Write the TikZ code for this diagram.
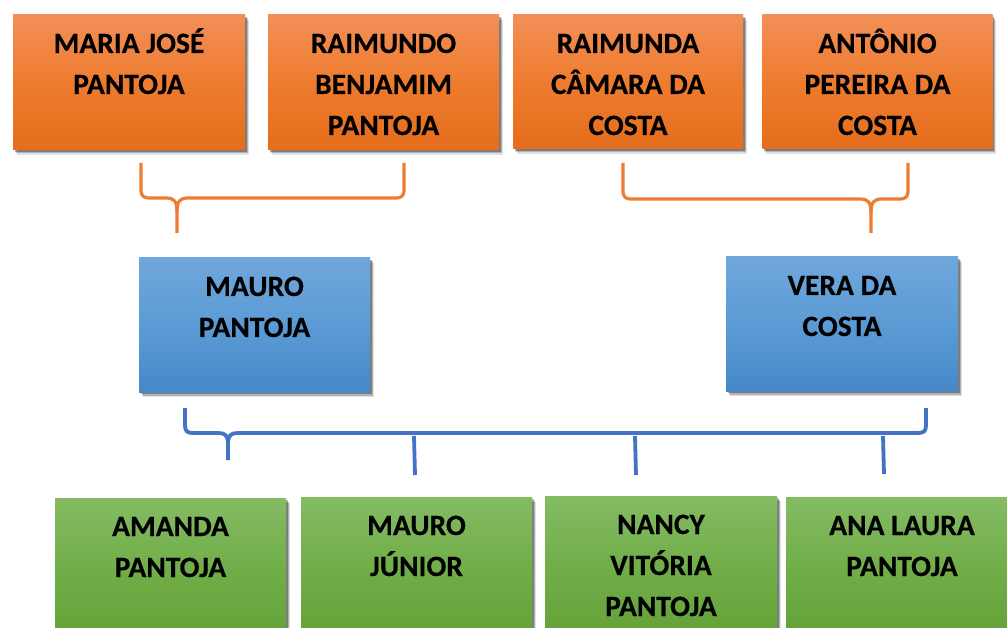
\documentclass[tikz,border=0pt]{standalone}
\usepackage{fontspec}
\setmainfont{Carlito}[BoldFeatures={FakeBold=0.4}]
\usetikzlibrary{shadows}
\definecolor{orTop}{RGB}{242,143,88}
\definecolor{orMid}{RGB}{238,124,46}
\definecolor{orBot}{RGB}{229,109,28}
\definecolor{blTop}{RGB}{112,167,220}
\definecolor{blMid}{RGB}{91,155,213}
\definecolor{blBot}{RGB}{70,136,200}
\definecolor{grTop}{RGB}{132,187,100}
\definecolor{grMid}{RGB}{112,173,71}
\definecolor{grBot}{RGB}{98,160,54}
\definecolor{orLine}{RGB}{237,125,49}
\definecolor{blLine}{RGB}{68,114,196}
\newcommand\boxlbl[1]{\parbox[t]{228pt}{\centering\fontsize{29.5}{41}\selectfont\bfseries #1}}
\tikzset{
  famshadow/.style={
    drop shadow={shadow xshift=3.5pt,shadow yshift=-5pt,opacity=0.12,fill=black},
    drop shadow={shadow xshift=2.5pt,shadow yshift=-3.5pt,opacity=0.2,fill=black},
    drop shadow={shadow xshift=1.5pt,shadow yshift=-2pt,opacity=0.3,fill=black}},
  fambox/.style={rectangle,inner sep=0pt,outer sep=0pt,draw=none,famshadow},
  obox/.style={fambox,top color=orTop,bottom color=orBot,middle color=orMid},
  bbox/.style={fambox,top color=blTop,bottom color=blBot,middle color=blMid},
  gbox/.style={fambox,top color=grTop,bottom color=grBot,middle color=grMid},
  txt/.style={anchor=base,inner sep=0pt,text=black},
  obrace/.style={draw=orLine,line width=3.2pt,line cap=butt,line join=round},
  bbrace/.style={draw=blLine,line width=3.8pt,line cap=butt,line join=round},
}
\begin{document}
\begin{tikzpicture}[x=1pt,y=-1pt]
\clip (0,0) rectangle (1007,628);
\fill[white] (0,0) rectangle (1007,628);
% top row
\node[obox,minimum width=232pt,minimum height=135pt] (mj) at (129,82.5) {};
\node[obox,minimum width=231pt,minimum height=135pt] (rb) at (383.5,82.5) {};
\node[obox,minimum width=230pt,minimum height=134pt] (rc) at (628,82) {};
\node[obox,minimum width=230pt,minimum height=134pt] (ap) at (877.5,82) {};
\node[txt] (mj-t) at ([yshift=-38pt]mj.north) {\boxlbl{MARIA JOSÉ\\PANTOJA}};
\node[txt] (rb-t) at ([yshift=-38pt]rb.north) {\boxlbl{RAIMUNDO\\BENJAMIM\\PANTOJA}};
\node[txt] (rc-t) at ([yshift=-38pt]rc.north) {\boxlbl{RAIMUNDA\\CÂMARA DA\\COSTA}};
\node[txt] (ap-t) at ([yshift=-38pt]ap.north) {\boxlbl{ANTÔNIO\\PEREIRA DA\\COSTA}};
% middle row
\node[bbox,minimum width=231pt,minimum height=134pt] (mp) at (254.5,325) {};
\node[bbox,minimum width=232pt,minimum height=134pt] (vc) at (842,324) {};
\node[txt] (mp-t) at ([yshift=-38pt]mp.north) {\boxlbl{MAURO\\PANTOJA}};
\node[txt] (vc-t) at ([yshift=-38pt]vc.north) {\boxlbl{VERA DA\\COSTA}};
% bottom row
\node[gbox,minimum width=231pt,minimum height=150pt] (am) at (170.5,573) {};
\node[gbox,minimum width=231pt,minimum height=150pt] (mju) at (416.5,572) {};
\node[gbox,minimum width=232pt,minimum height=150pt] (nv) at (661,571) {};
\node[gbox,minimum width=232pt,minimum height=150pt] (al) at (902,572) {};
\node[txt] (am-t) at ([yshift=-38pt]am.north) {\boxlbl{AMANDA\\PANTOJA}};
\node[txt] (mju-t) at ([yshift=-38pt]mju.north) {\boxlbl{MAURO\\JÚNIOR}};
\node[txt] (nv-t) at ([yshift=-38pt]nv.north) {\boxlbl{NANCY\\VITÓRIA\\PANTOJA}};
\node[txt] (al-t) at ([yshift=-38pt]al.north) {\boxlbl{ANA LAURA\\PANTOJA}};
% brace anchor points
\coordinate (ol-a) at (141,163);
\coordinate (ol-b) at (404,163);
\coordinate (ol-tip) at (177,233);
\coordinate (or-a) at (623,163);
\coordinate (or-b) at (908,163);
\coordinate (or-tip) at (871,233);
\coordinate (bl-a) at (185,408);
\coordinate (bl-b) at (926,408);
\coordinate (bl-tip) at (228,460);
% orange left brace
\draw[obrace] (ol-a) -- ++(0,26) .. controls ++(0,7) and ++(-7,0) .. ++(9,9) -- (166,198)
  .. controls (174,198) and (177,201) .. (177,212) -- (ol-tip);
\draw[obrace] (ol-b) -- ++(0,26) .. controls ++(0,7) and ++(7,0) .. ++(-9,9) -- (188,198)
  .. controls (180,198) and (177,201) .. (177,212);
% orange right brace
\draw[obrace] (or-a) -- ++(0,27) .. controls ++(0,7) and ++(-7,0) .. ++(9,9) -- (860,199)
  .. controls (868,199) and (871,202) .. (871,213) -- (or-tip);
\draw[obrace] (or-b) -- ++(0,27) .. controls ++(0,7) and ++(7,0) .. ++(-9,9) -- (882,199)
  .. controls (874,199) and (871,202) .. (871,213);
% blue brace
\draw[bbrace] (bl-a) -- ++(0,17) .. controls ++(0,6) and ++(-6,0) .. ++(8,8) -- (218,433)
  .. controls (225,433) and (228,435) .. (228,444) -- (bl-tip);
\draw[bbrace] (bl-b) -- ++(0,17) .. controls ++(0,6) and ++(6,0) .. ++(-8,8) -- (238,433)
  .. controls (231,433) and (228,435) .. (228,444);
% child ticks
\coordinate (t1a) at (414,436); \coordinate (t1b) at (415,475);
\coordinate (t2a) at (635,436); \coordinate (t2b) at (636,475);
\coordinate (t3a) at (883,436); \coordinate (t3b) at (884,474);
\draw[bbrace] (t1a) -- (t1b);
\draw[bbrace] (t2a) -- (t2b);
\draw[bbrace] (t3a) -- (t3b);
\end{tikzpicture}
\end{document}
